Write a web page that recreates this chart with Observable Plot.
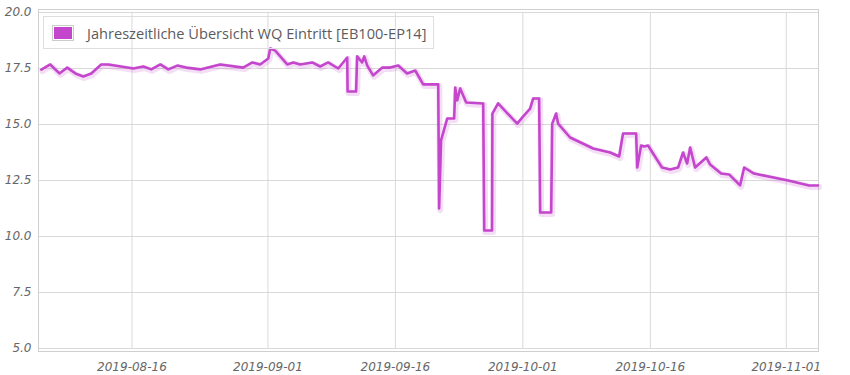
<!DOCTYPE html>
<html>
<head>
<meta charset="utf-8">
<script src="https://cdn.jsdelivr.net/npm/d3@7"></script>
<script src="https://cdn.jsdelivr.net/npm/@observablehq/plot@0.6"></script>
<style>
  html, body { margin: 0; padding: 0; background: #fff; }
  #wrap { position: relative; width: 850px; height: 375px; }
  #legend {
    position: absolute; left: 43px; top: 16px; width: 391px; height: 33px;
    box-sizing: border-box; border: 1px solid #dedede; background: transparent;
    font-family: "Open Sans", sans-serif; font-size: 14.6px; color: #5c5c5c;
    display: flex; align-items: center;
  }
  #legend .sw { margin-left: 8px; width: 18px; height: 12px; border: 1px solid #ccc; padding: 1px; }
  #legend .sw div { width: 100%; height: 100%; }
  #legend .lbl { margin-left: 13px; white-space: nowrap; }
</style>
</head>
<body>
<div id="wrap"></div>
<script>
const seriesName = "Jahreszeitliche Übersicht WQ Eintritt [EB100-EP14]";
const lineColor = "#c446cc";

const times = [
  "2019-08-05T08:00","2019-08-06T09:00","2019-08-07T11:00","2019-08-08T09:00","2019-08-09T08:00",
  "2019-08-10T06:30","2019-08-11T05:00","2019-08-12T09:00","2019-08-13T05:00","2019-08-16T04:00",
  "2019-08-17T08:00","2019-08-18T06:30","2019-08-19T08:00","2019-08-20T06:30","2019-08-21T08:00",
  "2019-08-22T09:00","2019-08-24T01:00","2019-08-26T09:00","2019-08-29T02:00","2019-08-30T04:00",
  "2019-08-31T02:00","2019-09-01T01:00","2019-09-01T06:30","2019-09-01T20:30","2019-09-03T06:30",
  "2019-09-03T23:30","2019-09-04T19:00","2019-09-06T05:00","2019-09-07T03:30","2019-09-08T02:00",
  "2019-09-09T06:30","2019-09-10T08:00","2019-09-10T09:00","2019-09-11T09:00","2019-09-11T12:00",
  "2019-09-12T02:00","2019-09-12T08:00","2019-09-12T16:30","2019-09-13T09:00","2019-09-14T11:00",
  "2019-09-15T09:00","2019-09-16T08:00","2019-09-17T09:00","2019-09-18T08:00","2019-09-19T06:30",
  "2019-09-21T01:00","2019-09-21T03:30","2019-09-21T09:00","2019-09-22T02:30","2019-09-22T22:00",
  "2019-09-23T01:00","2019-09-23T06:30","2019-09-23T15:00","2019-09-24T08:00","2019-09-26T08:00",
  "2019-09-26T11:00","2019-09-27T09:00","2019-09-27T10:00","2019-09-28T02:00","2019-09-30T08:00",
  "2019-10-01T01:00","2019-10-01T20:30","2019-10-02T05:00","2019-10-02T22:00","2019-10-03T01:00",
  "2019-10-04T08:00","2019-10-04T11:00","2019-10-04T22:00","2019-10-05T03:30","2019-10-06T13:30",
  "2019-10-09T06:30","2019-10-11T06:30","2019-10-12T08:00","2019-10-12T19:00","2019-10-14T08:00",
  "2019-10-14T11:00","2019-10-14T22:00","2019-10-15T06:30","2019-10-15T17:30","2019-10-17T09:00",
  "2019-10-18T08:00","2019-10-19T06:30","2019-10-19T20:30","2019-10-20T08:00","2019-10-20T16:30",
  "2019-10-21T06:30","2019-10-22T14:00","2019-10-23T01:00","2019-10-24T08:00","2019-10-25T06:30",
  "2019-10-26T13:30","2019-10-27T01:00","2019-10-28T05:00","2019-11-01T05:00","2019-11-03T16:30",
  "2019-11-04T17:30"
];

const values = [
  17.45,17.68,17.28,17.54,17.28,
  17.14,17.28,17.68,17.68,17.50,
  17.59,17.46,17.68,17.46,17.63,
  17.54,17.46,17.68,17.54,17.77,
  17.68,17.95,18.39,18.30,17.68,
  17.77,17.68,17.77,17.59,17.77,
  17.50,17.99,16.47,16.47,18.04,
  17.77,18.04,17.63,17.19,17.54,
  17.54,17.63,17.28,17.41,16.79,
  16.79,11.25,14.29,15.27,15.27,
  16.65,16.07,16.61,15.98,15.94,
  10.27,10.27,15.49,15.94,15.04,
  15.36,15.71,16.16,16.16,11.07,
  11.07,15.04,15.49,15.04,14.42,
  13.93,13.75,13.57,14.60,14.60,
  13.08,14.06,14.02,14.06,13.08,
  12.99,13.08,13.75,13.26,13.97,
  13.08,13.53,13.21,12.81,12.77,
  12.28,13.08,12.81,12.50,12.28,
  12.28
];

const xTickDates = ["2019-08-16","2019-09-01","2019-09-16","2019-10-01","2019-10-16","2019-11-01"];
const yTicks = [5, 7.5, 10, 12.5, 15, 17.5, 20];
const xDomain = ["2019-08-05T00:00", "2019-11-04T19:00"];
const yDomain = [5, 20];

const parse = s => new Date(s + (s.length === 10 ? "T00:00Z" : "Z"));
const data = times.map((t, i) => ({date: parse(t), value: values[i]}));
const xTicks = xTickDates.map(parse);

const chart = Plot.plot({
  width: 850,
  height: 375,
  marginLeft: 38,
  marginRight: 32,
  marginTop: 12,
  marginBottom: 27,
  style: {fontFamily: "DejaVu Sans", fontSize: "12px", background: "#fff", overflow: "visible"},
  x: {type: "utc", domain: xDomain.map(parse), ticks: xTicks, tickFormat: d3.utcFormat("%Y-%m-%d"), label: null},
  y: {domain: yDomain, ticks: yTicks, tickFormat: d3.format(".1f"), label: null},
  marks: [
    Plot.gridY(yTicks, {stroke: "#d9d9d9", strokeOpacity: 1, strokeWidth: 1}),
    Plot.gridX(xTicks, {stroke: "#d9d9d9", strokeOpacity: 1, strokeWidth: 1}),
    Plot.frame({stroke: "#cfcfcf", insetTop: -3, insetBottom: -3}),
    Plot.axisY({ticks: yTicks, tickSize: 0, tickPadding: 7, tickFormat: d3.format(".1f"), fill: "#666", fontStyle: "italic", label: null}),
    Plot.axisX({ticks: xTicks, tickSize: 0, tickPadding: 14, tickFormat: d3.utcFormat("%Y-%m-%d"), fill: "#666", fontStyle: "italic", label: null}),
    Plot.line(data, {x: "date", y: "value", stroke: lineColor, strokeOpacity: 0.18, strokeWidth: 6, dx: 1, dy: 1.5, curve: "linear"}),
    Plot.line(data, {x: "date", y: "value", stroke: lineColor, strokeWidth: 2.6, curve: "linear"})
  ]
});

const wrap = document.getElementById("wrap");
wrap.appendChild(chart);
const legend = document.createElement("div");
legend.id = "legend";
legend.innerHTML = `<div class="sw"><div style="background:${lineColor}"></div></div><span class="lbl"></span>`;
legend.querySelector(".lbl").textContent = seriesName;
wrap.appendChild(legend);
</script>
</body>
</html>
